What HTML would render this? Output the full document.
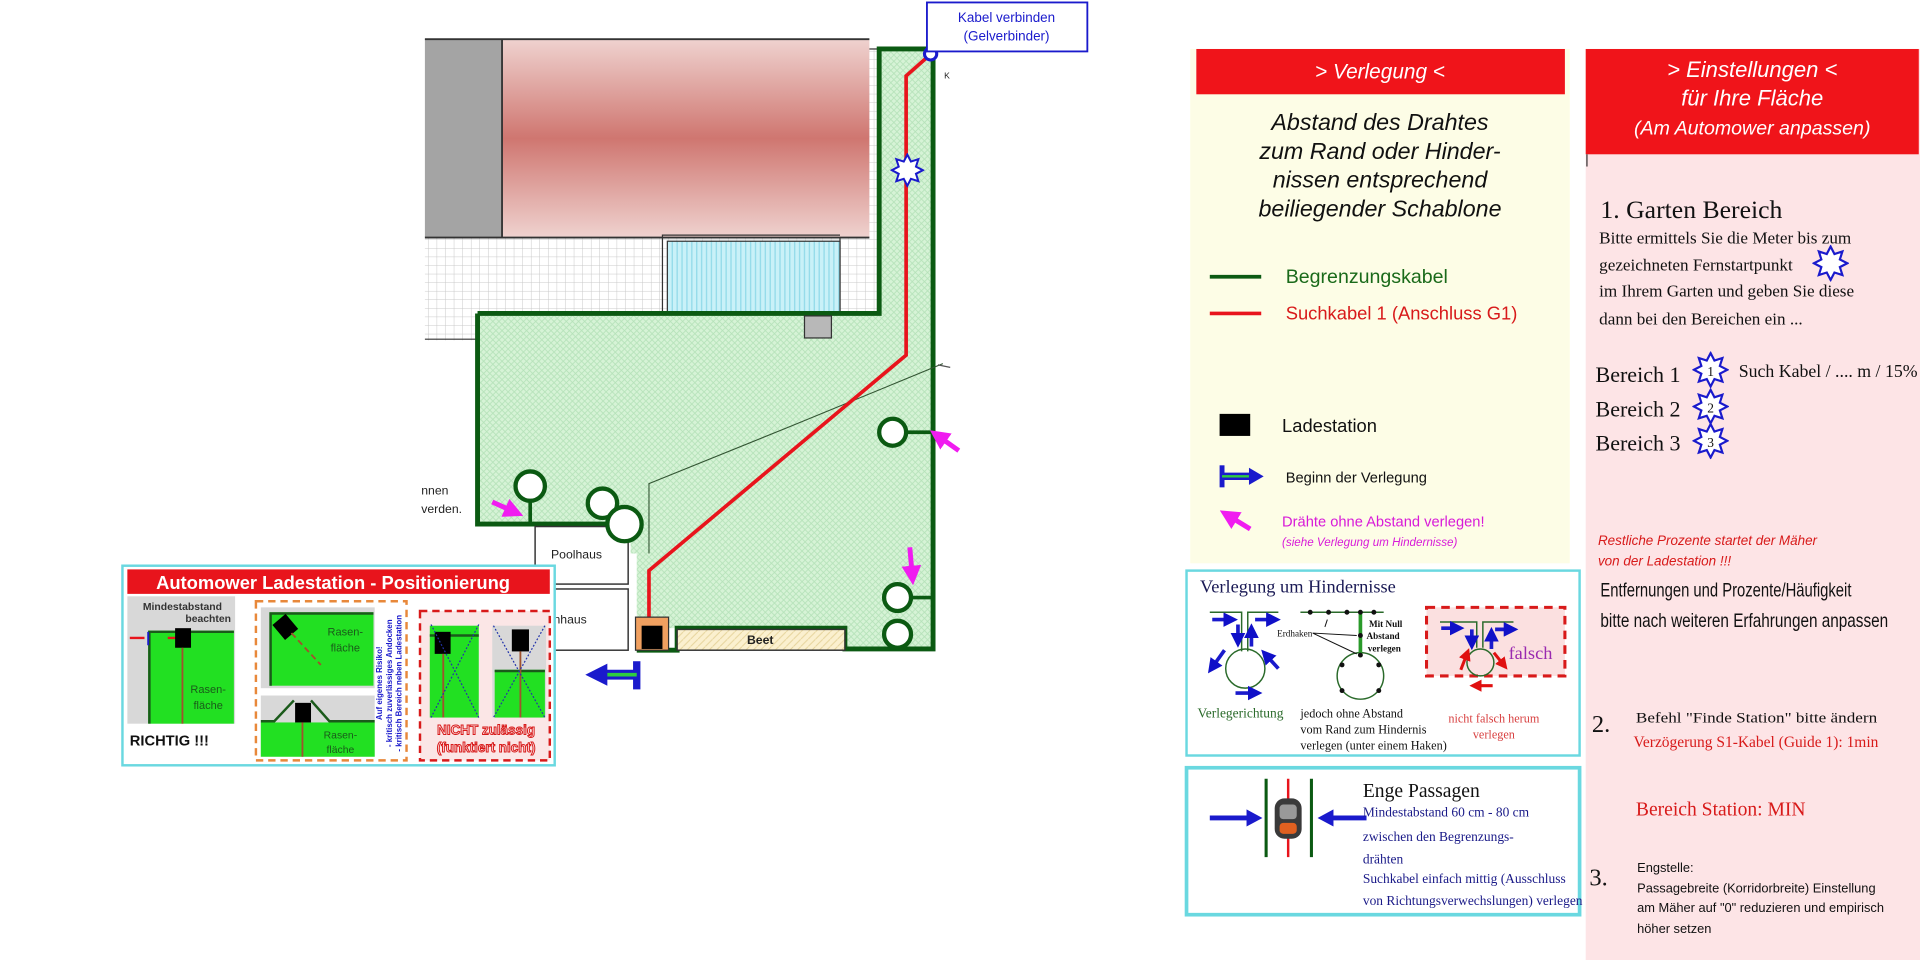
<!DOCTYPE html>
<html><head><meta charset="utf-8"><style>
html,body{margin:0;padding:0;background:#fff;width:1920px;height:960px;overflow:hidden}
svg{display:block}
.sans{font-family:"Liberation Sans","DejaVu Sans",sans-serif}
.serif{font-family:"Liberation Serif",serif}
</style></head><body>
<svg width="1920" height="960" viewBox="0 0 1568 784" xmlns="http://www.w3.org/2000/svg">
<defs>
<pattern id="grid" width="7" height="7" patternUnits="userSpaceOnUse"><rect width="7" height="7" fill="#fff"/><path d="M7 0V7M0 7H7" stroke="#c8c8c8" stroke-width="0.8"/></pattern>
<pattern id="lawn" width="5" height="5" patternUnits="userSpaceOnUse"><rect width="5" height="5" fill="#d6f3d6"/><path d="M0 0L5 5M5 0L0 5" stroke="#b5e2b9" stroke-width="0.7"/></pattern>
<pattern id="pool" width="4" height="10" patternUnits="userSpaceOnUse"><rect width="4" height="10" fill="#c9f1f8"/><path d="M1 0V10" stroke="#8fd9e8" stroke-width="1"/></pattern>
<pattern id="beet" width="6" height="6" patternUnits="userSpaceOnUse"><rect width="6" height="6" fill="#fbf0cf"/><path d="M0 6L6 0" stroke="#e6d49c" stroke-width="0.8"/></pattern>
<linearGradient id="roof" x1="0" y1="0" x2="0" y2="1"><stop offset="0" stop-color="#efd2cf"/><stop offset="0.5" stop-color="#cf7670"/><stop offset="1" stop-color="#efd2cf"/></linearGradient>
<symbol id="star" viewBox="-11 -11 22 22"><polygon points="10,0 5.54,2.3 7.07,7.07 2.3,5.54 0,10 -2.3,5.54 -7.07,7.07 -5.54,2.3 -10,0 -5.54,-2.3 -7.07,-7.07 -2.3,-5.54 0,-10 2.3,-5.54 7.07,-7.07 5.54,-2.3" fill="#fff" stroke="#1a1acc" stroke-width="1.3"/></symbol>
<marker id="ab" markerWidth="4" markerHeight="4" refX="2" refY="2" orient="auto"><path d="M0 0L4 2L0 4Z" fill="#1010c8"/></marker>
<marker id="ar" markerWidth="4" markerHeight="4" refX="2" refY="2" orient="auto"><path d="M0 0L4 2L0 4Z" fill="#e01010"/></marker>
<marker id="am" markerWidth="4" markerHeight="4" refX="2" refY="2" orient="auto"><path d="M0 0L4 2L0 4Z" fill="#f01cf0"/></marker>
</defs>

<rect x="347" y="194" width="340" height="84" fill="url(#grid)"/>
<rect x="686" y="40" width="32" height="222" fill="url(#grid)" stroke="#333" stroke-width="1"/>
<rect x="347" y="32" width="63" height="162" fill="#a4a4a4"/>
<rect x="410" y="32" width="300" height="162" fill="url(#roof)"/>
<line x1="347" y1="32" x2="710" y2="32" stroke="#333" stroke-width="1.5"/>
<line x1="347" y1="194" x2="710" y2="194" stroke="#333" stroke-width="1.5"/>
<line x1="410" y1="32" x2="410" y2="194" stroke="#333" stroke-width="1.5"/>
<line x1="347" y1="277" x2="390" y2="277" stroke="#333" stroke-width="1"/>
<rect x="545" y="197" width="141" height="60" fill="url(#pool)" stroke="#333" stroke-width="1"/>
<path d="M541 277V192H686" fill="none" stroke="#333" stroke-width="1"/>

<path d="M390 256H718V40H762V530H553V513H546V531H520V452H515V428H390Z" fill="url(#lawn)"/>
<path d="M390 256H718V40H762V530H690V513H553V531H520M515 428H390V256" fill="none" stroke="#0b5a12" stroke-width="4"/>
<path d="M515 428H440" stroke="#0b5a12" stroke-width="3"/>
<rect x="657" y="258" width="22" height="18" fill="#b8b8b8" stroke="#333" stroke-width="1"/>
<rect x="437" y="430" width="76" height="47" fill="#fff" stroke="#333" stroke-width="1.2"/>
<text x="450" y="456" class="sans" font-size="10" fill="#222">Poolhaus</text>
<rect x="452" y="481" width="61" height="50" fill="#fff" stroke="#333" stroke-width="1.2"/>
<text x="452" y="509" class="sans" font-size="10" fill="#222">nhaus</text>
<rect x="553" y="514" width="137" height="17" fill="url(#beet)" stroke="#333" stroke-width="1.2"/>
<text x="610" y="526" class="sans" font-size="10" font-weight="bold" fill="#222">Beet</text>
<g fill="#fff" stroke="#0b5a12" stroke-width="3.5">
<circle cx="433" cy="397" r="12"/><circle cx="492" cy="411" r="12"/><circle cx="510" cy="428" r="14"/>
<circle cx="729" cy="353" r="11"/><circle cx="733" cy="488" r="11"/><circle cx="733" cy="518" r="11"/>
</g>
<path d="M433 409V428M740 353H762M744 488H762" stroke="#0b5a12" stroke-width="3"/>
<path d="M770 297L646 348L530 395V452" fill="none" stroke="#335533" stroke-width="0.9"/>
<path d="M758 46L740 62V290L530 466V520" fill="none" stroke="#e8141c" stroke-width="3"/>
<rect x="519" y="504" width="27" height="27" fill="#f0a060" stroke="#333"/>
<rect x="524" y="511" width="17" height="19" fill="#000"/>
<use href="#star" x="727" y="125" width="28" height="28"/>
<circle cx="760" cy="44" r="5" fill="#fff" stroke="#1a1acc" stroke-width="2.5"/>
<rect x="757" y="2" width="131" height="40" fill="#fff" stroke="#1a1acc" stroke-width="1.5"/>
<text x="822" y="18" text-anchor="middle" class="sans" font-size="11" fill="#1a1acc">Kabel verbinden</text>
<text x="822" y="33" text-anchor="middle" class="sans" font-size="11" fill="#1a1acc">(Gelverbinder)</text>
<text x="771" y="64" class="sans" font-size="7" fill="#222">K</text>
<line x1="766" y1="298" x2="776" y2="300" stroke="#555" stroke-width="1"/>
<text x="344" y="404" class="sans" font-size="10" fill="#222">nnen</text>
<text x="344" y="419" class="sans" font-size="10" fill="#222">verden.</text>
<g stroke="#f01cf0" stroke-width="4">
<line x1="402" y1="410" x2="420" y2="418" marker-end="url(#am)"/>
<line x1="783" y1="368" x2="766" y2="356" marker-end="url(#am)"/>
<line x1="743" y1="447" x2="745" y2="470" marker-end="url(#am)"/>
</g>
<path d="M520 540V563" stroke="#1a1acc" stroke-width="6"/>
<path d="M520 551H492" stroke="#1a1acc" stroke-width="8"/>
<path d="M520 551H492" stroke="#2ecc40" stroke-width="3"/>
<path d="M496 542L478 551L496 560Z" fill="#1a1acc"/>

<rect x="100" y="462" width="353" height="163" fill="#fff" stroke="#6ad8e0" stroke-width="2"/>
<rect x="104" y="465" width="345" height="20" fill="#e8141c"/>
<text x="272" y="481" text-anchor="middle" class="sans" font-size="15" font-weight="bold" fill="#fff">Automower Ladestation - Positionierung</text>
<rect x="104" y="487" width="88" height="104" fill="#d8d8d8"/>
<rect x="121" y="515" width="70" height="76" fill="#22e022"/>
<path d="M122 591V516H191" fill="none" stroke="#1a5a1a" stroke-width="2"/>
<text x="149" y="498" class="sans" font-size="8.5" font-weight="bold" fill="#333" text-anchor="middle">Mindestabstand</text>
<text x="170" y="508" class="sans" font-size="8.5" font-weight="bold" fill="#333" text-anchor="middle">beachten</text>
<path d="M106 521H118M150 521H137" stroke="#e8141c" stroke-width="2"/>
<path d="M121 516V527M150 516V527" stroke="#1a1acc" stroke-width="1.5"/>
<rect x="143" y="513" width="13" height="16" fill="#000"/>
<path d="M149 529V591" stroke="#a0522d" stroke-width="1.5"/>
<text x="170" y="566" class="sans" font-size="9" fill="#1a5a1a" text-anchor="middle">Rasen-</text>
<text x="170" y="579" class="sans" font-size="9" fill="#1a5a1a" text-anchor="middle">fläche</text>
<text x="106" y="609" class="sans" font-size="12" font-weight="bold" fill="#111">RICHTIG !!!</text>
<rect x="209" y="491" width="123" height="130" fill="#fff" stroke="#e8883a" stroke-width="2" stroke-dasharray="6,4"/>
<rect x="213" y="496" width="93" height="66" fill="#d8d8d8"/>
<rect x="220" y="500" width="85" height="60" fill="#22e022"/>
<path d="M221 560V501H305" fill="none" stroke="#1a5a1a" stroke-width="2"/>
<rect x="226" y="504" width="14" height="16" fill="#000" transform="rotate(-40 233 512)"/>
<path d="M238 517L262 543" stroke="#a0522d" stroke-width="1.5" stroke-dasharray="5,3"/>
<text x="282" y="519" class="sans" font-size="9" fill="#1a5a1a" text-anchor="middle">Rasen-</text>
<text x="282" y="532" class="sans" font-size="9" fill="#1a5a1a" text-anchor="middle">fläche</text>
<rect x="213" y="568" width="93" height="50" fill="#d8d8d8"/>
<rect x="213" y="590" width="93" height="28" fill="#22e022"/>
<path d="M213 589H224L240 572M254 572L269 589H306" fill="none" stroke="#1a5a1a" stroke-width="2"/>
<rect x="241" y="574" width="13" height="16" fill="#000"/>
<path d="M247 590V618" stroke="#a0522d" stroke-width="1.5"/>
<text x="278" y="603" class="sans" font-size="8.5" fill="#1a5a1a" text-anchor="middle">Rasen-</text>
<text x="278" y="615" class="sans" font-size="8.5" fill="#1a5a1a" text-anchor="middle">fläche</text>
<g transform="translate(316 558) rotate(-90)" class="sans" font-size="6.5" font-weight="bold" fill="#1a1acc" text-anchor="middle">
<text x="0" y="-4">Auf eigenes Risiko!</text>
<text x="0" y="4">- kritisch zuverlässiges Andocken</text>
<text x="0" y="12">- kritisch Bereich neben Ladestation</text>
</g>
<rect x="343" y="499" width="106" height="122" fill="#fbe6e6" stroke="#d81a1a" stroke-width="2" stroke-dasharray="6,4"/>
<rect x="351" y="511" width="40" height="75" fill="#22e022"/>
<path d="M351 519H391" stroke="#1a5a1a" stroke-width="2"/>
<rect x="355" y="516" width="13" height="18" fill="#000"/>
<path d="M362 534V586" stroke="#a0522d" stroke-width="1.5"/>
<path d="M352 510L391 586M391 510L352 586" stroke="#2233aa" stroke-width="1" stroke-dasharray="1.5,1.5"/>
<rect x="402" y="511" width="44" height="75" fill="#d8d8d8"/>
<rect x="404" y="547" width="41" height="39" fill="#22e022"/>
<path d="M404 548H445" stroke="#1a5a1a" stroke-width="2"/>
<rect x="418" y="514" width="14" height="18" fill="#000"/>
<path d="M425 532V586" stroke="#a0522d" stroke-width="1.5"/>
<path d="M403 511L445 586M445 511L403 586" stroke="#2233aa" stroke-width="1" stroke-dasharray="1.5,1.5"/>
<text x="397" y="600" class="sans" font-size="11" font-weight="bold" fill="#fbe6e6" stroke="#d81a1a" stroke-width="0.8" text-anchor="middle">NICHT zulässig</text>
<text x="397" y="614" class="sans" font-size="11" font-weight="bold" fill="#fbe6e6" stroke="#d81a1a" stroke-width="0.8" text-anchor="middle">(funktiert nicht)</text>

<rect x="972" y="40" width="310" height="420" fill="#fdfde6"/>
<rect x="977" y="40" width="301" height="37" fill="#f0141a"/>
<text x="1127" y="64" text-anchor="middle" class="sans" font-size="17" font-style="italic" fill="#fff">&gt; Verlegung &lt;</text>
<g class="sans" font-size="19" font-style="italic" fill="#111" text-anchor="middle">
<text x="1127" y="106">Abstand des Drahtes</text>
<text x="1127" y="130">zum Rand oder Hinder-</text>
<text x="1127" y="153">nissen entsprechend</text>
<text x="1127" y="177">beiliegender Schablone</text>
</g>
<path d="M988 226H1030" stroke="#0b5a12" stroke-width="3"/>
<text x="1050" y="231" class="sans" font-size="16" fill="#1a6a1a">Begrenzungskabel</text>
<path d="M988 256H1030" stroke="#e8141c" stroke-width="3"/>
<text x="1050" y="261" class="sans" font-size="15" fill="#d81a1a">Suchkabel 1 (Anschluss G1)</text>
<rect x="996" y="338" width="25" height="18" fill="#000"/>
<text x="1047" y="353" class="sans" font-size="15" fill="#111">Ladestation</text>
<path d="M998 380V398" stroke="#1a1acc" stroke-width="4"/>
<path d="M998 389H1022" stroke="#1a1acc" stroke-width="6"/>
<path d="M998 389H1022" stroke="#2ecc40" stroke-width="2"/>
<path d="M1020 382L1032 389L1020 396Z" fill="#1a1acc"/>
<text x="1050" y="394" class="sans" font-size="12" fill="#111">Beginn der Verlegung</text>
<line x1="1021" y1="432" x2="1003" y2="421" stroke="#f01cf0" stroke-width="4" marker-end="url(#am)"/>
<text x="1047" y="430" class="sans" font-size="12" fill="#d81ad8">Drähte ohne Abstand verlegen!</text>
<text x="1047" y="446" class="sans" font-size="9.5" font-style="italic" fill="#d81ad8">(siehe Verlegung um Hindernisse)</text>

<rect x="969" y="466" width="321" height="151" fill="#fff" stroke="#6ad8e0" stroke-width="2"/>
<text x="980" y="484" class="serif" font-size="15" fill="#1a1a55">Verlegung um Hindernisse</text>
<g fill="none" stroke="#2a6a2a" stroke-width="1.2">
<path d="M988 500H1014V532M1019 532V500H1044"/><circle cx="1017" cy="546" r="16"/>
<path d="M1062 500H1130M1111 500V535"/><circle cx="1111" cy="552" r="19"/>
</g>
<path d="M1111 501V534" stroke="#2a9a2a" stroke-width="3"/>
<g fill="#111"><circle cx="1070" cy="500" r="2"/><circle cx="1085" cy="500" r="2"/><circle cx="1100" cy="500" r="2"/><circle cx="1111" cy="500" r="2"/><circle cx="1122" cy="500" r="2"/><circle cx="1111" cy="519" r="2"/><circle cx="1111" cy="535" r="2"/><circle cx="1096" cy="543" r="2"/><circle cx="1126" cy="543" r="2"/><circle cx="1096" cy="564" r="2"/><circle cx="1126" cy="564" r="2"/></g>
<text x="1118" y="512" class="serif" font-size="7.5" font-weight="bold" fill="#111">Mit Null</text>
<text x="1116" y="522" class="serif" font-size="7.5" font-weight="bold" fill="#111">Abstand</text>
<text x="1117" y="532" class="serif" font-size="7.5" font-weight="bold" fill="#111">verlegen</text>
<text x="1043" y="520" class="serif" font-size="7.5" fill="#111">Erdhaken</text>
<path d="M1072 517L1108 519M1072 517L1108 534M1084 506L1082 512" stroke="#111" stroke-width="0.8"/>
<g stroke="#1a1acc" stroke-width="3">
<line x1="990" y1="506" x2="1005" y2="506" marker-end="url(#ab)"/>
<line x1="1011" y1="510" x2="1011" y2="523" marker-end="url(#ab)"/>
<line x1="1022" y1="528" x2="1022" y2="515" marker-end="url(#ab)"/>
<line x1="1025" y1="506" x2="1040" y2="506" marker-end="url(#ab)"/>
<line x1="1000" y1="531" x2="990" y2="545" marker-end="url(#ab)"/>
<line x1="1044" y1="546" x2="1034" y2="535" marker-end="url(#ab)"/>
<line x1="1009" y1="566" x2="1025" y2="566" marker-end="url(#ab)"/>
</g>
<text x="978" y="586" class="serif" font-size="11" fill="#2a6a2a">Verlegerichtung</text>
<text x="1062" y="586" class="serif" font-size="10" fill="#111">jedoch ohne Abstand</text>
<text x="1062" y="599" class="serif" font-size="10" fill="#111">vom Rand zum Hindernis</text>
<text x="1062" y="612" class="serif" font-size="10" fill="#111">verlegen (unter einem Haken)</text>
<rect x="1165" y="496" width="113" height="56" fill="#fbe0e0" stroke="#d81a1a" stroke-width="2.5" stroke-dasharray="7,5"/>
<g fill="none" stroke="#2a6a2a" stroke-width="1.2">
<path d="M1176 508H1206V529M1211 529V508H1236"/><circle cx="1209" cy="541" r="11"/>
</g>
<g stroke="#1a1acc" stroke-width="3"><line x1="1177" y1="513" x2="1190" y2="513" marker-end="url(#ab)"/><line x1="1202" y1="514" x2="1202" y2="525" marker-end="url(#ab)"/><line x1="1218" y1="530" x2="1218" y2="518" marker-end="url(#ab)"/><line x1="1221" y1="514" x2="1234" y2="514" marker-end="url(#ab)"/></g>
<g stroke="#e01010" stroke-width="2.5"><line x1="1193" y1="547" x2="1198" y2="534" marker-end="url(#ar)"/><line x1="1220" y1="533" x2="1228" y2="543" marker-end="url(#ar)"/><line x1="1219" y1="560" x2="1205" y2="560" marker-end="url(#ar)"/></g>
<text x="1232" y="538" class="serif" font-size="15" fill="#9a2ab0">falsch</text>
<text x="1220" y="590" text-anchor="middle" class="serif" font-size="10" fill="#d84040">nicht falsch herum</text>
<text x="1220" y="603" text-anchor="middle" class="serif" font-size="10" fill="#d84040">verlegen</text>

<rect x="969" y="627" width="321" height="120" fill="#fff" stroke="#6ad8e0" stroke-width="3"/>
<path d="M1034 636V700M1071 636V700" stroke="#0b5a12" stroke-width="2.5"/>
<path d="M1052 636V700" stroke="#e8141c" stroke-width="2"/>
<rect x="1041" y="652" width="22" height="33" rx="8" fill="#3a3a3a"/>
<rect x="1045" y="657" width="14" height="12" rx="3" fill="#999"/>
<rect x="1045" y="672" width="14" height="9" rx="3" fill="#e06020"/>
<path d="M988 668H1020" stroke="#1a1acc" stroke-width="4"/><path d="M1018 661L1031 668L1018 675Z" fill="#1a1acc"/>
<path d="M1116 668H1087" stroke="#1a1acc" stroke-width="4"/><path d="M1089 661L1076 668L1089 675Z" fill="#1a1acc"/>
<text x="1113" y="651" class="serif" font-size="16" fill="#111">Enge Passagen</text>
<g class="serif" font-size="11" fill="#1a1a88">
<text x="1113" y="667">Mindestabstand 60 cm - 80 cm</text>
<text x="1113" y="687">zwischen den Begrenzungs-</text>
<text x="1113" y="705">drähten</text>
<text x="1113" y="721">Suchkabel einfach mittig (Ausschluss</text>
<text x="1113" y="739">von Richtungsverwechslungen) verlegen</text>
</g>

<rect x="1295" y="40" width="273" height="744" fill="#fde4e6"/>
<rect x="1295" y="40" width="272" height="86" fill="#f0141a"/>
<line x1="1296" y1="126" x2="1296" y2="136" stroke="#333" stroke-width="1"/>
<g class="sans" font-style="italic" fill="#fff" text-anchor="middle">
<text x="1431" y="63" font-size="18">&gt; Einstellungen &lt;</text>
<text x="1431" y="86" font-size="18">für Ihre Fläche</text>
<text x="1431" y="110" font-size="16">(Am Automower anpassen)</text>
</g>
<text x="1307" y="178" class="serif" font-size="21" fill="#111">1. Garten Bereich</text>
<g class="serif" font-size="14" fill="#111">
<text x="1306" y="199">Bitte ermittels Sie die Meter bis zum</text>
<text x="1306" y="221">gezeichneten Fernstartpunkt</text>
<text x="1306" y="242">im Ihrem Garten und geben Sie diese</text>
<text x="1306" y="265">dann bei den Bereichen ein ...</text>
</g>
<use href="#star" x="1480" y="200" width="30" height="30"/>
<g class="serif" font-size="18" fill="#111">
<text x="1303" y="312">Bereich 1</text><text x="1303" y="340">Bereich 2</text><text x="1303" y="368">Bereich 3</text>
</g>
<use href="#star" x="1382" y="287" width="30" height="30"/>
<use href="#star" x="1382" y="317" width="30" height="30"/>
<use href="#star" x="1382" y="345" width="30" height="30"/>
<g class="serif" font-size="11" fill="#111" text-anchor="middle"><text x="1397" y="307">1</text><text x="1397" y="337">2</text><text x="1397" y="365">3</text></g>
<text x="1420" y="308" class="serif" font-size="15" fill="#111" textLength="146" lengthAdjust="spacingAndGlyphs">Such Kabel / .... m / 15%</text>
<text x="1305" y="445" class="sans" font-size="11" font-style="italic" fill="#d81a1a">Restliche Prozente  startet der Mäher</text>
<text x="1305" y="462" class="sans" font-size="11" font-style="italic" fill="#d81a1a">von der Ladestation !!!</text>
<text x="1307" y="487" class="sans" font-size="16" fill="#111" textLength="205" lengthAdjust="spacingAndGlyphs">Entfernungen und Prozente/Häufigkeit</text>
<text x="1307" y="512" class="sans" font-size="16" fill="#111" textLength="235" lengthAdjust="spacingAndGlyphs">bitte nach weiteren Erfahrungen anpassen</text>
<text x="1300" y="598" class="serif" font-size="20" fill="#111">2.</text>
<text x="1336" y="590" class="serif" font-size="12" fill="#111" textLength="197" lengthAdjust="spacingAndGlyphs">Befehl "Finde Station" bitte ändern</text>
<text x="1334" y="610" class="serif" font-size="13" fill="#d81a1a" textLength="200" lengthAdjust="spacingAndGlyphs">Verzögerung S1-Kabel (Guide 1): 1min</text>
<text x="1336" y="666" class="serif" font-size="16" fill="#d81a1a">Bereich Station: MIN</text>
<text x="1298" y="723" class="serif" font-size="20" fill="#111">3.</text>
<g class="sans" font-size="10.5" fill="#111">
<text x="1337" y="712">Engstelle:</text>
<text x="1337" y="729">Passagebreite (Korridorbreite) Einstellung</text>
<text x="1337" y="745">am Mäher auf "0" reduzieren und empirisch</text>
<text x="1337" y="762">höher setzen</text>
</g>
</svg>
</body></html>
